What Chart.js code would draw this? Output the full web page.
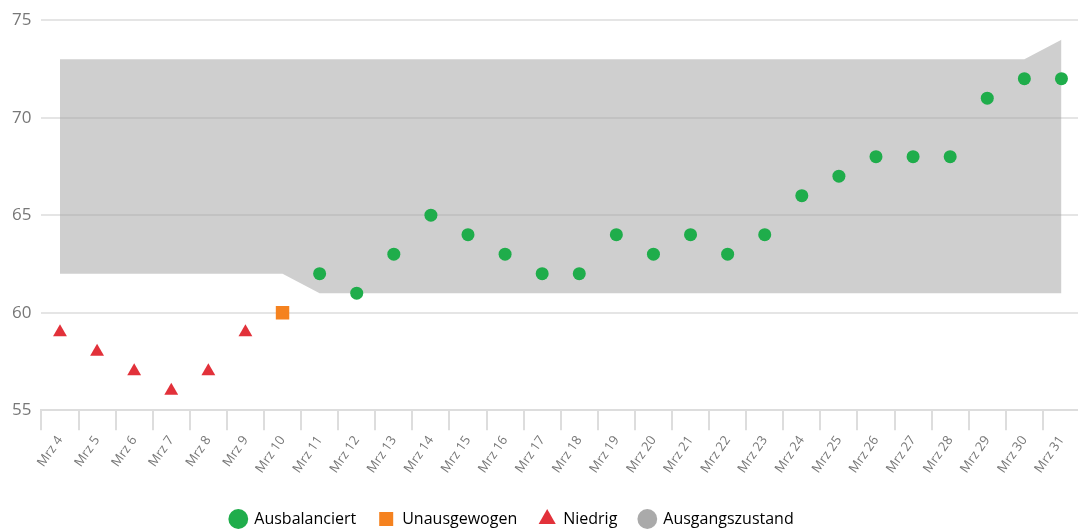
<!DOCTYPE html>
<html>
<head>
<meta charset="utf-8">
<script src="https://cdn.jsdelivr.net/npm/chart.js@4"></script>
<style>
    html, body { margin: 0; padding: 0; background: #fff; overflow: hidden; }
    #wrap { width: 1078px; height: 529px; }
</style>
</head>
<body>
<div id="wrap"><canvas id="chart"></canvas></div>
<script>
const labels = ['Mrz 4', 'Mrz 5', 'Mrz 6', 'Mrz 7', 'Mrz 8', 'Mrz 9', 'Mrz 10', 'Mrz 11', 'Mrz 12', 'Mrz 13',
    'Mrz 14', 'Mrz 15', 'Mrz 16', 'Mrz 17', 'Mrz 18', 'Mrz 19', 'Mrz 20', 'Mrz 21', 'Mrz 22', 'Mrz 23',
    'Mrz 24', 'Mrz 25', 'Mrz 26', 'Mrz 27', 'Mrz 28', 'Mrz 29', 'Mrz 30', 'Mrz 31'];

const niedrig = [59, 58, 57, 56, 57, 59, null, null, null, null, null, null, null, null,
    null, null, null, null, null, null, null, null, null, null, null, null, null, null];
const unausgewogen = [null, null, null, null, null, null, 60, null, null, null, null, null, null, null,
    null, null, null, null, null, null, null, null, null, null, null, null, null, null];
const ausbalanciert = [null, null, null, null, null, null, null, 62, 61, 63, 65, 64, 63, 62,
    62, 64, 63, 64, 63, 64, 66, 67, 68, 68, 68, 71, 72, 72];

const bandUpper = [73, 73, 73, 73, 73, 73, 73, 73, 73, 73, 73, 73, 73, 73,
    73, 73, 73, 73, 73, 73, 73, 73, 73, 73, 73, 73, 73, 74];
const bandLower = [62, 62, 62, 62, 62, 62, 62, 61, 61, 61, 61, 61, 61, 61,
    61, 61, 61, 61, 61, 61, 61, 61, 61, 61, 61, 61, 61, 61];

const yTicks = [55, 60, 65, 70, 75];

const green = '#1fad4b';
const orange = '#f5821f';
const red = '#e2313a';
const bandColor = 'rgba(160,160,160,0.5)';

function pointSet(label, data, color, style, radius) {
    return {
        type: 'line',
        label: label,
        data: data,
        showLine: false,
        pointStyle: style,
        pointRadius: radius,
        pointHoverRadius: radius,
        pointBackgroundColor: color,
        pointBorderColor: color,
        backgroundColor: color,
        borderColor: color,
        borderWidth: 0
    };
}

// layout tweaks: legend sits lower and a bit left, plot runs to the right edge
const layoutTweaks = {
    id: 'layoutTweaks',
    beforeLayout(chart) {
        const lg = chart.legend;
        if (lg && !lg._shifted) {
            const fit = lg.fit;
            lg.fit = function () {
                fit.call(this);
                this.height -= 8;
            };
            lg._shifted = true;
        }
    },
    afterLayout(chart) {
        const x = chart.scales.x;
        const right = 1080;
        x.right = right;
        x.width = right - x.left;
        x.configure();
        chart.chartArea.right = right;
        chart.chartArea.width = right - chart.chartArea.left;
        const y = chart.scales.y;
        y.configure();
        chart.legend.left -= 28;
        chart.legend.right -= 28;
    }
};

new Chart(document.getElementById('chart'), {
    type: 'line',
    data: {
        labels: labels,
        datasets: [
            pointSet('Ausbalanciert', ausbalanciert, green, 'circle', 6.5),
            pointSet('Unausgewogen', unausgewogen, orange, 'rect', 9.5),
            pointSet('Niedrig', niedrig, red, 'triangle', 8),
            {
                label: 'Ausgangszustand',
                data: bandUpper,
                borderWidth: 0,
                borderColor: 'rgba(0,0,0,0)',
                backgroundColor: bandColor,
                pointRadius: 0,
                tension: 0,
                fill: '+1',
                order: 10
            },
            {
                label: 'lower',
                data: bandLower,
                borderWidth: 0,
                borderColor: 'rgba(0,0,0,0)',
                backgroundColor: bandColor,
                pointRadius: 0,
                tension: 0,
                fill: false,
                order: 11
            }
        ]
    },
    options: {
        responsive: true,
        maintainAspectRatio: false,
        animation: false,
        layout: { padding: { left: 2, right: 0, top: 18, bottom: 0 } },
        scales: {
            x: {
                offset: true,
                afterFit: scale => {
                    scale.height += 10;
                },
                grid: {
                    display: true,
                    offset: true,
                    drawOnChartArea: false,
                    tickLength: 20,
                    color: '#dddddd',
                    lineWidth: 2
                },
                border: { display: true, color: '#dddddd', width: 2 },
                ticks: {
                    minRotation: 55,
                    maxRotation: 55,
                    autoSkip: false,
                    color: '#777777',
                    font: { family: 'Open Sans', size: 13 }
                }
            },
            y: {
                min: 55,
                max: 75,
                afterBuildTicks: axis => { axis.ticks = yTicks.map(v => ({ value: v })); },
                grid: {
                    color: '#e5e5e5',
                    lineWidth: 2,
                    drawTicks: false
                },
                border: { display: false },
                ticks: {
                    padding: 10,
                    color: '#777777',
                    font: { family: 'Open Sans', size: 17 }
                }
            }
        },
        plugins: {
            tooltip: { enabled: false },
            legend: {
                position: 'bottom',
                labels: {
                    usePointStyle: true,
                    boxWidth: 16,
                    boxHeight: 14,
                    padding: 22,
                    color: '#555555',
                    font: { family: 'Open Sans', size: 16 },
                    filter: item => item.text !== 'lower',
                    generateLabels: chart => {
                        const styles = ['circle', 'rect', 'triangle', 'circle'];
                        const colors = [green, orange, red, '#aaaaaa'];
                        return chart.data.datasets.map((ds, i) => ({
                            text: ds.label,
                            fillStyle: colors[i] || '#aaa',
                            strokeStyle: colors[i] || '#aaa',
                            lineWidth: 0,
                            pointStyle: styles[i] || 'circle',
                            hidden: false,
                            datasetIndex: i
                        }));
                    }
                }
            }
        }
    },
    plugins: [layoutTweaks]
});
</script>
</body>
</html>
